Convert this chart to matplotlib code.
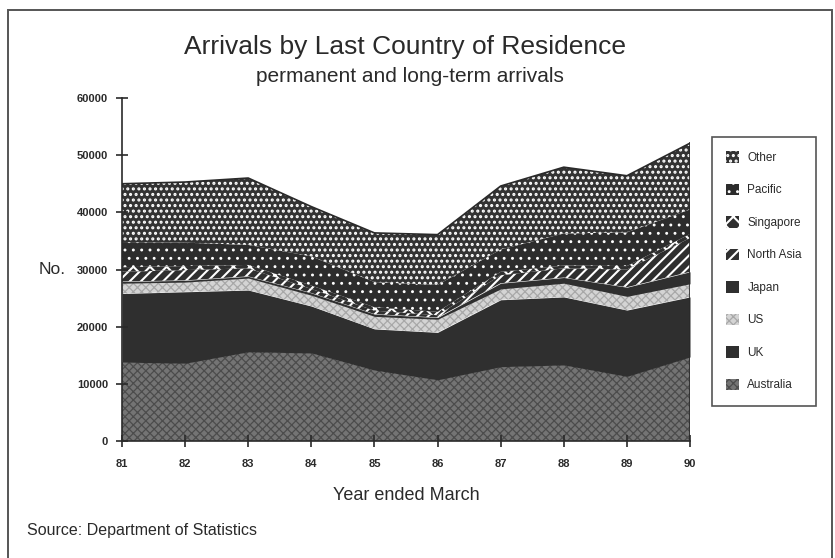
import matplotlib.pyplot as plt
import numpy as np
from matplotlib.patches import Patch, Rectangle

# Permanent and long-term arrivals by last country of residence
years = [81, 82, 83, 84, 85, 86, 87, 88, 89, 90]
australia = [13800, 13600, 15600, 15400, 12400, 10700, 13000, 13300, 11300, 14700]
uk = [12000, 12500, 10800, 8200, 7200, 8300, 11700, 11900, 11600, 10500]
us = [1800, 1700, 2100, 1900, 2200, 2300, 1900, 2400, 2400, 2300]
japan = [300, 300, 300, 400, 400, 300, 1000, 1000, 1600, 2100]
north_asia = [1700, 1800, 1400, 700, 600, 400, 1400, 1600, 3100, 5900]
singapore = [800, 700, 600, 600, 600, 600, 600, 500, 600, 700]
pacific = [4400, 4100, 3500, 5100, 4400, 4700, 3900, 5600, 5900, 4300]
other = [10200, 10600, 11700, 8700, 8600, 8800, 11100, 11600, 9900, 11600]

names = ["Australia", "UK", "US", "Japan", "North Asia", "Singapore", "Pacific", "Other"]
series = [australia, uk, us, japan, north_asia, singapore, pacific, other]

# face colour, hatch, hatch colour, hatch width for each band (bottom to top)
styles = [
    ("#747474", "xxxx", "#4c4c4c", 0.9),
    ("#2f2f2f", None, "#2f2f2f", 1.0),
    ("#d4d4d4", "xxxx", "#a8a8a8", 0.9),
    ("#2f2f2f", None, "#2f2f2f", 1.0),
    ("#2f2f2f", "///", "white", 1.5),
    ("#2f2f2f", "xx", "white", 1.5),
    ("#2c2c2c", "..", "white", 0.9),
    ("#333333", "...", "white", 1.45),
]

plt.rcParams['font.family'] = ['Liberation Sans', 'DejaVu Sans']
plt.rcParams['hatch.linewidth'] = 1.6
ink = "#2a2a2a"


def set_hatch_width(artist, w):
    if hasattr(artist, "set_hatch_linewidth"):
        artist.set_hatch_linewidth(w)


fig = plt.figure(figsize=(8.35, 5.58), dpi=100)
ax = fig.add_axes([122 / 835, 1 - 441 / 558, 568 / 835, 343 / 558])

base = np.zeros(len(years))
for vals, (fc, h, hc, hw) in zip(series, styles):
    top = base + np.array(vals)
    band = ax.fill_between(years, base, top, facecolor=fc, hatch=h, edgecolor=hc, linewidth=0)
    set_hatch_width(band, hw)
    base = top
ax.plot(years, base, color=ink, lw=1.2)
ax.plot([years[-1], years[-1]], [0, base[-1]], color=ink, lw=1.2)

ax.set_xlim(81, 90)
ax.set_ylim(0, 60000)
ax.set_xticks(years)
ax.set_xticklabels([str(y) for y in years])
ax.set_yticks(range(0, 60001, 10000))
for s in ["top", "right"]:
    ax.spines[s].set_visible(False)
for s in ["left", "bottom"]:
    ax.spines[s].set_color(ink)
    ax.spines[s].set_linewidth(1.2)
ax.tick_params(direction="inout", length=8, width=1.2, color=ink)
ax.tick_params(axis="x", pad=9)
ax.tick_params(axis="y", pad=6)
for lab in ax.get_xticklabels() + ax.get_yticklabels():
    lab.set_fontweight("bold")
    lab.set_fontsize(8)
    lab.set_color(ink)

ax.set_xlabel("Year ended March", fontsize=13, color=ink, labelpad=13)
fig.text(52 / 835, 1 - 270 / 558, "No.", fontsize=12.5, color=ink, ha="center", va="center")

fig.text(405 / 835, 1 - 47 / 558, "Arrivals by Last Country of Residence",
         fontsize=19, color=ink, ha="center", va="center")
fig.text(410 / 835, 1 - 76 / 558, "permanent and long-term arrivals",
         fontsize=15, color=ink, ha="center", va="center")
fig.text(27 / 835, 1 - 531 / 558, "Source: Department of Statistics",
         fontsize=11.5, color=ink, ha="left", va="center")

handles = [Patch(facecolor=fc, hatch=h, edgecolor=hc, linewidth=0) for fc, h, hc, hw in styles]
leg = fig.legend(handles[::-1], names[::-1], loc="upper left",
                 bbox_to_anchor=(712 / 835, 1 - 137 / 558), bbox_transform=fig.transFigure,
                 borderaxespad=0, frameon=True, fancybox=False, edgecolor=ink,
                 handlelength=1.1, handleheight=1.1, handletextpad=0.7,
                 labelspacing=1.68, borderpad=1.2, prop={'size': 8.5})
leg.get_frame().set_linewidth(1.2)
for t in leg.get_texts():
    t.set_color(ink)
for p, (fc, h, hc, hw) in zip(leg.get_patches(), styles[::-1]):
    set_hatch_width(p, hw)

# outer border around the whole figure
fig.patches.append(Rectangle((8 / 835, -0.01), 824 / 835, 1 - 10 / 558 + 0.01,
                             transform=fig.transFigure, fill=False,
                             edgecolor="#555555", linewidth=1.4))

fig.savefig("out.png", dpi=100)
